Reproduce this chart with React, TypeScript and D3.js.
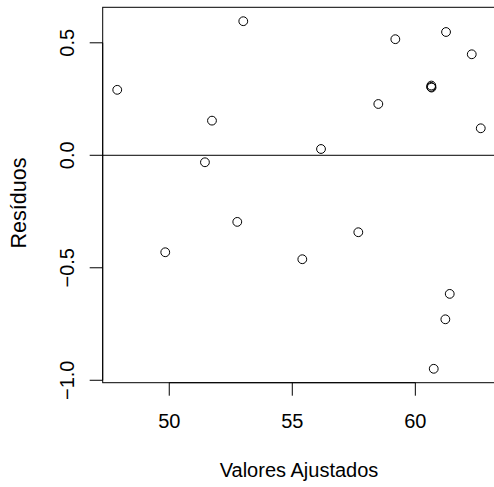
import React from "react";
import * as d3 from "d3";

const fittedValues = [47.886, 53.008, 51.736, 51.45, 59.187, 61.248, 62.293, 60.65, 60.66, 60.64, 58.496, 62.659, 56.167, 49.837, 52.764, 55.407, 57.683, 61.398, 61.22, 60.748];
const residuals = [0.291, 0.596, 0.154, -0.031, 0.516, 0.548, 0.449, 0.31, 0.301, 0.304, 0.228, 0.12, 0.028, -0.431, -0.296, -0.462, -0.342, -0.616, -0.729, -0.949];
const xTicks = [50, 55, 60];
const yTicks = [-1.0, -0.5, 0.0, 0.5];
const xLabel = "Valores Ajustados";
const yLabel = "Resíduos";

const W = 494, H = 487;
const L = 102.7, R = 495.3, T = 7.3, B = 382.7;

function padExtent(v: number[]): [number, number] {
  const [a, b] = d3.extent(v) as [number, number];
  const p = (b - a) * 0.04;
  return [a - p, b + p];
}

export default function App() {
  const x = d3.scaleLinear().domain(padExtent(fittedValues)).range([L, R]);
  const y = d3.scaleLinear().domain(padExtent(residuals)).range([B, T]);
  const font = "'Liberation Sans', Arial, Helvetica, sans-serif";
  const fs = 20;
  return (
    <svg width={W} height={H} style={{ position: "absolute", left: 0, top: 0, background: "#fff" }} fontFamily={font}>
      <rect x={L} y={T} width={R - L} height={B - T} fill="none" stroke="#000" strokeWidth={1} />
      <line x1={L} x2={R} y1={y(0)} y2={y(0)} stroke="#000" strokeWidth={1} />
      <line x1={x(xTicks[0])} x2={x(xTicks[xTicks.length - 1])} y1={B} y2={B} stroke="#000" />
      {xTicks.map((t) => (
        <g key={"x" + t}>
          <line x1={x(t)} x2={x(t)} y1={B} y2={B + 13} stroke="#000" />
          <text x={x(t)} y={427.5} textAnchor="middle" fontSize={fs}>{t}</text>
        </g>
      ))}
      <line x1={L} x2={L} y1={y(yTicks[0])} y2={y(yTicks[yTicks.length - 1])} stroke="#000" />
      {yTicks.map((t) => (
        <g key={"y" + t}>
          <line x1={L - 13} x2={L} y1={y(t)} y2={y(t)} stroke="#000" />
          <text transform={`translate(74,${y(t)}) rotate(-90)`} textAnchor="middle" fontSize={fs}>
            {t === 0 ? "0.0" : d3.format(".1f")(t).replace("-", "\u2212")}
          </text>
        </g>
      ))}
      {fittedValues.map((v, i) => (
        <circle key={i} cx={x(v)} cy={y(residuals[i])} r={4.4} fill="none" stroke="#000" strokeWidth={1} />
      ))}
      <text x={(L + R) / 2} y={476.5} textAnchor="middle" fontSize={fs}>{xLabel}</text>
      <text transform={`translate(26,${203}) rotate(-90)`} textAnchor="middle" fontSize={21.5}>{yLabel}</text>
    </svg>
  );
}
